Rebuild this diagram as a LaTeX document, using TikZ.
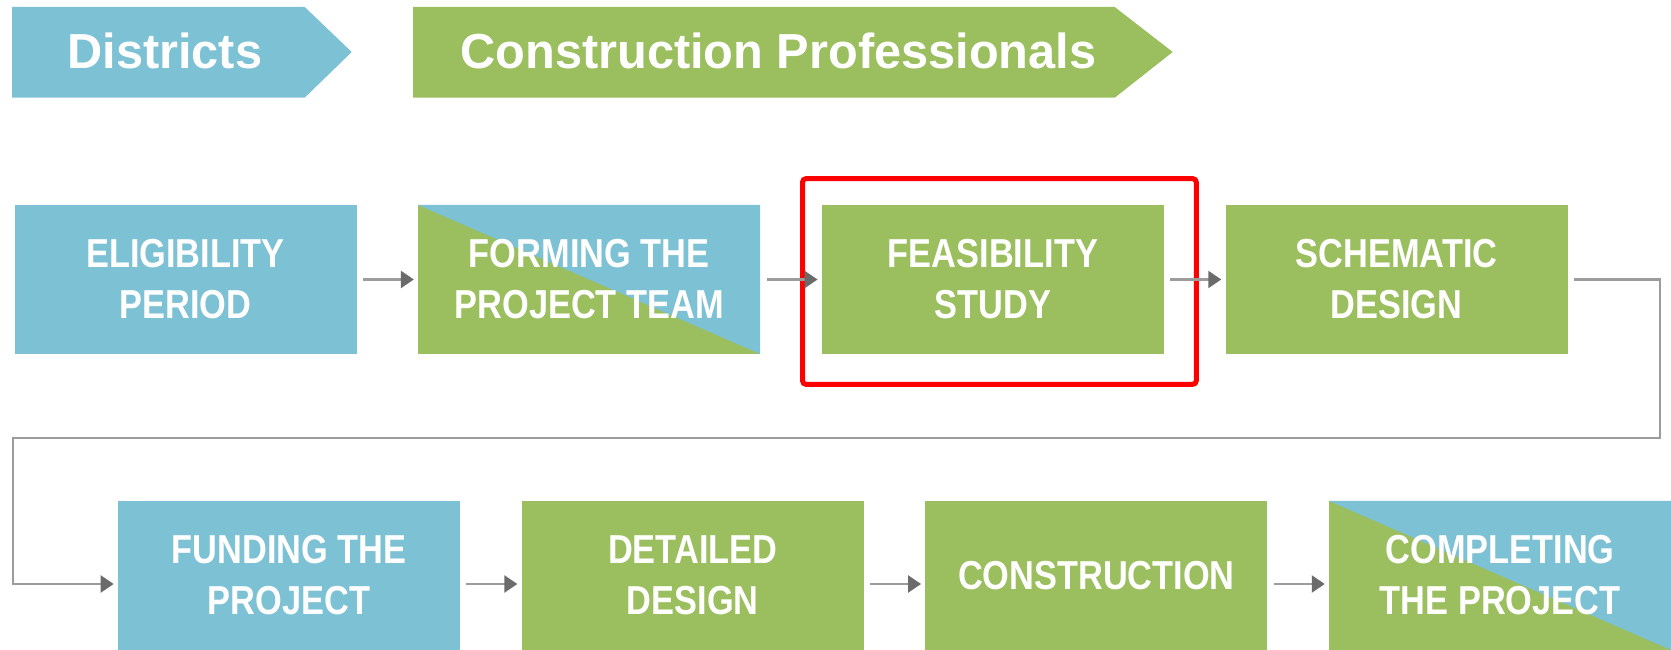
\documentclass[tikz,border=0pt]{standalone}
\usepackage{fontspec}
\setmainfont{Liberation Sans}[FakeStretch=0.85]
\newfontfamily\bannerfont{Liberation Sans}[FakeStretch=0.99]
\usetikzlibrary{positioning,arrows.meta}
\definecolor{distblue}{HTML}{7DC1D4}
\definecolor{progreen}{HTML}{9BBF5E}
\definecolor{linkgrey}{HTML}{9C9C9C}
\definecolor{tipgrey}{HTML}{6B6B6B}

\begin{document}
\begin{tikzpicture}[node distance = 1.22cm,
    stage/.style = {rectangle, minimum width=6.84cm, minimum height=2.98cm, inner sep=0pt, text=white, align=center, font=\bfseries\fontsize{23}{29}\selectfont},
    bluestage/.style = {stage, fill=distblue},
    greenstage/.style = {stage, fill=progreen},
    splitstage/.style = {stage, fill=progreen, path picture={\fill[distblue] (path picture bounding box.north west) -- (path picture bounding box.north east) -- (path picture bounding box.south east) -- cycle;}},
    banner/.style = {rectangle, minimum height=1.8cm, inner sep=0pt},
    bannertext/.style = {inner sep=0pt, text=white, font=\bannerfont\bfseries\fontsize{28}{34}\selectfont},
    link/.style = {draw=linkgrey, line width=1.3pt, shorten <=0.12cm, shorten >=0.08cm, -{Triangle[length=0.26cm, width=0.34cm, color=tipgrey]}}]
    \useasboundingbox (0,0) rectangle (33.42,-13);

    % Place banners
    \node [banner, minimum width=5.84cm, anchor=north west] (districts) at (0.24,-0.14) {};
    \fill [distblue] (districts.north west) -- (districts.north east) -- ++(0.94,-0.9) -- (districts.south east) -- (districts.south west) -- cycle;
    \node [bannertext, anchor=west] (distlbl) at (1.34,-1.01) {Districts};
    \node [banner, minimum width=14.02cm, anchor=north west] (professionals) at (8.26,-0.14) {};
    \fill [progreen] (professionals.north west) -- (professionals.north east) -- ++(1.16,-0.9) -- (professionals.south east) -- (professionals.south west) -- cycle;
    \node [bannertext, anchor=west] (proflbl) at (9.2,-1.01) {Construction Professionals};

    % Place stages
    \node [bluestage] (elig) at (3.71,-5.59) {ELIGIBILITY\\PERIOD};
    \node [splitstage, right=of elig] (team) {FORMING THE\\PROJECT TEAM};
    \node [greenstage, right=of team] (feas) {FEASIBILITY\\STUDY};
    \node [greenstage, right=of feas] (schem) {SCHEMATIC\\DESIGN};
    \node [bluestage] (fund) at (5.78,-11.51) {FUNDING THE\\PROJECT};
    \node [greenstage, right=of fund] (det) {DETAILED\\DESIGN};
    \node [greenstage, right=of det] (constr) {CONSTRUCTION};
    \node [splitstage, right=of constr] (compl) {COMPLETING\\THE PROJECT};

    \draw [red, line width=0.1cm, rounded corners=2pt] ([shift={(-0.38,0.52)}]feas.north west) rectangle ([shift={(0.64,-0.6)}]feas.south east);

    % Links
    \draw [link] (elig) -- (team);
    \draw [link] (team) -- (feas);
    \draw [link] (feas) -- (schem);
    \coordinate (railR) at (33.2,-8.76);
    \coordinate (railL) at (0.26,-8.76);
    \draw [link] (schem.east) -- (schem.east -| railR) |- (railL) |- ([yshift=-0.17cm]fund.west);
    \foreach \a/\b in {fund/det, det/constr, constr/compl}
        \draw [link] ([yshift=-0.17cm]\a.east) -- ([yshift=-0.17cm]\b.west);
\end{tikzpicture}
\end{document}
